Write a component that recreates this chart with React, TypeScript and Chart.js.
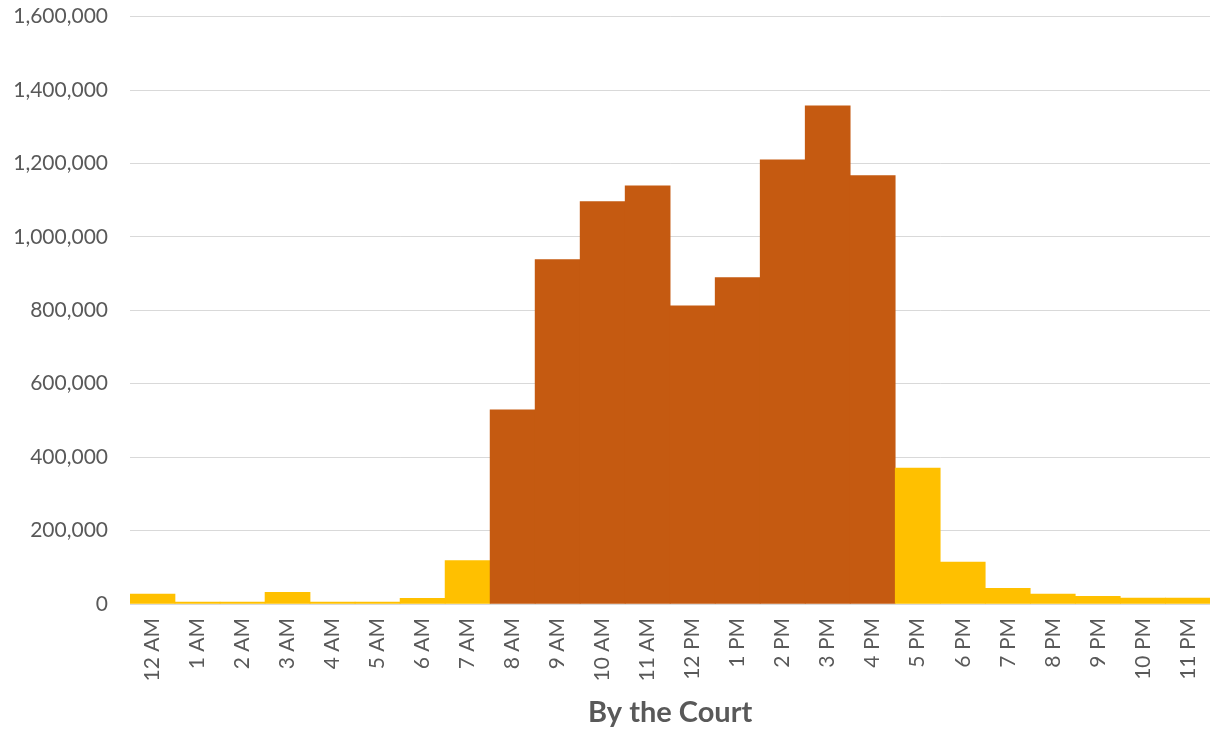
import React, { useEffect, useRef } from "react";
import { Chart, registerables } from "chart.js";

Chart.register(...registerables);

const hours = [
  "12 AM", "1 AM", "2 AM", "3 AM", "4 AM", "5 AM", "6 AM", "7 AM",
  "8 AM", "9 AM", "10 AM", "11 AM", "12 PM", "1 PM", "2 PM", "3 PM",
  "4 PM", "5 PM", "6 PM", "7 PM", "8 PM", "9 PM", "10 PM", "11 PM",
];

const counts = [
  27000, 5000, 5000, 32000, 5000, 5000, 15500, 118000,
  529000, 938000, 1096000, 1139000, 812000, 889000, 1210000, 1357000,
  1167000, 370000, 114000, 43000, 27000, 21000, 16000, 16000,
];

const peakHours = [
  "8 AM", "9 AM", "10 AM", "11 AM", "12 PM", "1 PM", "2 PM", "3 PM", "4 PM",
];

const yTicks = [0, 200000, 400000, 600000, 800000, 1000000, 1200000, 1400000, 1600000];

const chartTitle = "By the Court";

const PEAK_COLOR = "#C55A11";
const OFF_COLOR = "#FFC000";
const TEXT_COLOR = "#595959";
const FONT = "Lato, 'Open Sans', sans-serif";

export default function App() {
  const ref = useRef<HTMLCanvasElement>(null);

  useEffect(() => {
    document.body.style.margin = "0";
    const ctx = ref.current!;
    const chart = new Chart(ctx, {
      type: "bar",
      data: {
        labels: hours,
        datasets: [
          {
            label: chartTitle,
            data: counts,
            backgroundColor: hours.map((h) => (peakHours.includes(h) ? PEAK_COLOR : OFF_COLOR)),
            borderWidth: 0,
            categoryPercentage: 1,
            barPercentage: 1,
          },
        ],
      },
      options: {
        animation: false,
        responsive: false,
        maintainAspectRatio: false,
        layout: { padding: 0 },
        plugins: {
          legend: { display: false },
          tooltip: { enabled: false },
        },
        scales: {
          x: {
            grid: { display: false, drawTicks: false },
            border: { display: true, color: "#D9D9D9", width: 1 },
            afterFit: (axis: any) => {
              axis.height = 129;
            },
            ticks: {
              color: TEXT_COLOR,
              font: { family: FONT, size: 21 },
              minRotation: 90,
              maxRotation: 90,
              autoSkip: false,
              padding: 14,
            },
            title: {
              display: true,
              text: chartTitle,
              color: TEXT_COLOR,
              font: { family: FONT, size: 29, weight: "bold" },
              padding: { top: 4, bottom: 3 },
            },
          },
          y: {
            min: 0,
            max: 1600000,
            afterBuildTicks: (axis: any) => {
              axis.ticks = yTicks.map((v) => ({ value: v }));
            },
            afterFit: (axis: any) => {
              axis.width = 130;
            },
            grid: { color: "#D9D9D9", lineWidth: 1, drawTicks: false },
            border: { display: false },
            ticks: {
              color: TEXT_COLOR,
              font: { family: FONT, size: 21 },
              padding: 22,
              callback: (v: any) => Number(v).toLocaleString("en-US"),
            },
          },
        },
      },
    });
    return () => chart.destroy();
  }, []);

  return (
    <div style={{ position: "fixed", left: 0, top: 0, width: 1210, height: 733, overflow: "hidden" }}>
      <canvas
        ref={ref}
        width={1227}
        height={751}
        style={{ display: "block", position: "absolute", left: 0, top: -18 }}
      />
    </div>
  );
}
